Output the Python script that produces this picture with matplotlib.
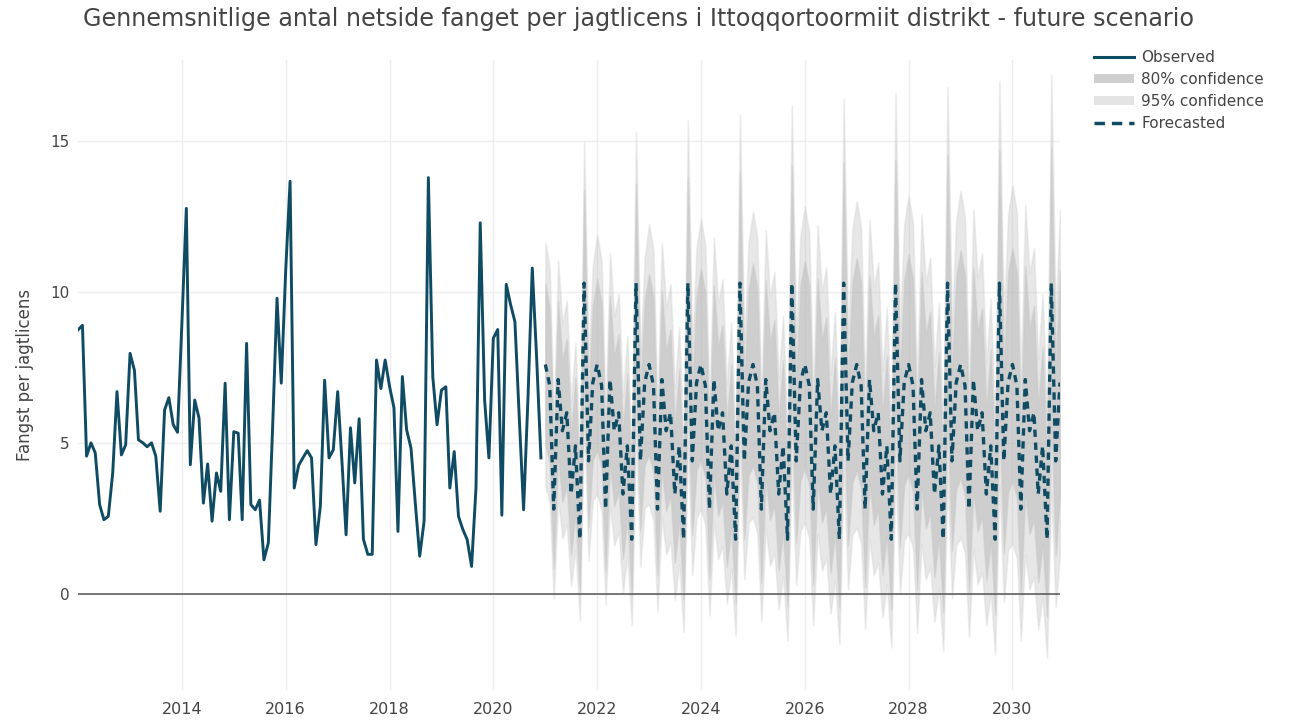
import numpy as np
import pandas as pd
import matplotlib
matplotlib.use('Agg')
import matplotlib.pyplot as plt
from matplotlib.lines import Line2D
from matplotlib.patches import Patch

# observed catch per licence, monthly from Jan 2012
observed = [
    8.75, 8.9, 4.56, 5.0, 4.67, 2.95, 2.45, 2.56, 4.0, 6.7, 4.6, 4.93,
    7.97, 7.4, 5.1, 5.0, 4.87, 5.0, 4.56, 2.73, 6.09, 6.5, 5.6, 5.35,
    9.0, 12.78, 4.27, 6.42, 5.83, 3.0, 4.3, 2.4, 4.0, 3.39, 6.98, 2.45,
    5.37, 5.32, 2.45, 8.3, 2.95, 2.78, 3.1, 1.12, 1.68, 5.5, 9.8, 6.98,
    10.7, 13.68, 3.5, 4.25, 4.5, 4.74, 4.5, 1.62, 2.9, 7.08, 4.5, 4.77,
    6.7, 4.3, 1.95, 5.5, 3.67, 5.8, 1.8, 1.3, 1.3, 7.75, 6.8, 7.75,
    6.87, 6.16, 2.06, 7.2, 5.43, 4.82, 3.0, 1.24, 2.4, 13.8, 7.2, 5.6,
    6.75, 6.86, 3.5, 4.71, 2.56, 2.12, 1.79, 0.9, 3.5, 12.3, 6.4, 4.5,
    8.47, 8.76, 2.6, 10.26, 9.6, 9.02, 5.9, 2.78, 6.5, 10.8, 7.8, 4.5,
]

# forecast mean for each month of the year (Jan..Dec), same every year
season_mean = [7.6, 6.9, 2.8, 7.1, 5.4, 6.0, 3.3, 4.9, 1.8, 10.3, 4.4, 7.0]
# relative width of the interval for each month (Oct = 1)
season_width = [0.86, 0.83, 0.63, 0.84, 0.76, 0.79, 0.65, 0.73, 0.57, 1.0, 0.70, 0.83]
# half width of the intervals in October, 2021..2030
hw95_year = [4.7, 5.0, 5.4, 5.6, 5.9, 6.1, 6.3, 6.5, 6.7, 6.9]
hw80_year = [3.1, 3.3, 3.5, 3.7, 3.9, 4.0, 4.1, 4.25, 4.4, 4.5]

tick_years = [2014, 2016, 2018, 2020, 2022, 2024, 2026, 2028, 2030]

obs_dates = pd.date_range('2012-01-01', periods=len(observed), freq='MS')
fc_dates = pd.date_range('2021-01-01', periods=12 * len(hw95_year), freq='MS')

fc_mean = np.tile(season_mean, len(hw95_year))
w_rel = np.tile(season_width, len(hw95_year))
w95 = np.repeat(hw95_year, 12) * w_rel
w80 = np.repeat(hw80_year, 12) * w_rel

line_col = '#0f4c64'
txt_col = '#444444'

fig = plt.figure(figsize=(12.92, 7.24), dpi=100)
ax = fig.add_axes([0.0604, 0.047, 0.7600, 0.870])

ax.fill_between(fc_dates, fc_mean - w95, fc_mean + w95, color='#bdbdbd', alpha=0.35,
                linewidth=1.2, edgecolor='#d0d0d0', zorder=2)
ax.fill_between(fc_dates, fc_mean - w80, fc_mean + w80, color='#b0b0b0', alpha=0.45,
                linewidth=1.2, edgecolor='#c8c8c8', zorder=3)
ax.plot(obs_dates, observed, color=line_col, lw=2.1, zorder=5)
ax.plot(fc_dates, fc_mean, color=line_col, lw=2.4, dashes=(2.2, 1.7), zorder=5)

ax.axhline(0, color='#555555', lw=1.1, zorder=4)

ax.set_xlim(obs_dates[0], fc_dates[-1])
ax.set_ylim(-3.2, 17.7)
ax.set_yticks([0, 5, 10, 15])
ax.set_xticks([pd.Timestamp(f'{y}-01-01') for y in tick_years])
ax.set_xticklabels([str(y) for y in tick_years])
ax.grid(True, color='#eeeeee', lw=1)
ax.set_axisbelow(True)
for s in ax.spines.values():
    s.set_visible(False)
ax.tick_params(length=0, colors=txt_col, labelsize=11, pad=6)
ax.tick_params(axis='x', labelsize=11.5, pad=9)

ax.set_ylabel('Fangst per jagtlicens', color=txt_col, fontsize=12, labelpad=12)
fig.text(0.064, 0.974,
         'Gennemsnitlige antal netside fanget per jagtlicens i Ittoqqortoormiit distrikt - future scenario',
         color=txt_col, fontsize=17.2, ha='left', va='center')

handles = [
    Line2D([], [], color=line_col, lw=2.2),
    Patch(facecolor='#cfcfcf', edgecolor='none'),
    Patch(facecolor='#e4e4e4', edgecolor='none'),
    Line2D([], [], color=line_col, lw=2.5, dashes=(3, 2)),
]
labels = ['Observed', '80% confidence', '95% confidence', 'Forecasted']
fig.legend(handles, labels, loc='upper left', bbox_to_anchor=(0.836, 0.95),
           frameon=False, fontsize=11, labelcolor=txt_col, handlelength=2.6,
           handleheight=0.5, labelspacing=0.45, handletextpad=0.5)

fig.savefig('out.png', dpi=100)
